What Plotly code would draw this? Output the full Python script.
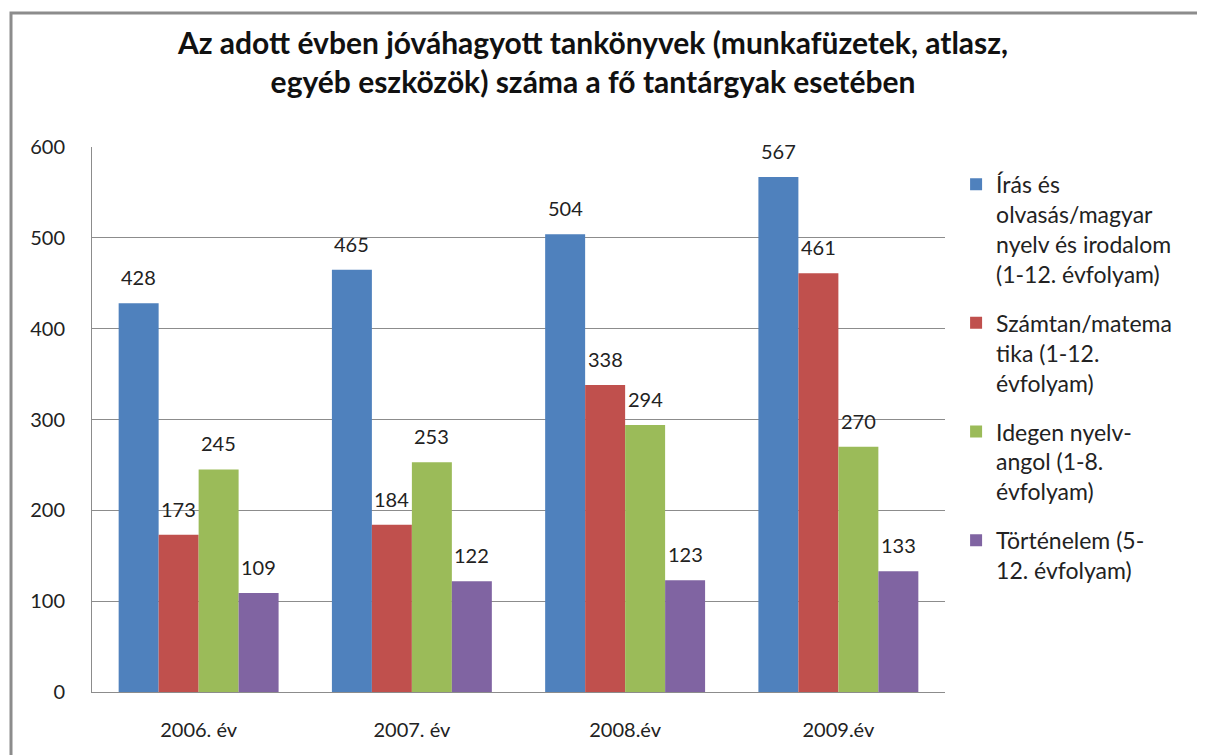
import plotly.graph_objects as go

# data
years = ["2006. év", "2007. év", "2008.év", "2009.év"]
series_names = [
    "Írás és<br>olvasás/magyar<br>nyelv és irodalom<br>(1-12. évfolyam)",
    "Számtan/matema<br>tika (1-12.<br>évfolyam)",
    "Idegen nyelv-<br>angol (1-8.<br>évfolyam)",
    "Történelem (5-<br>12. évfolyam)",
]
iras = [428, 465, 504, 567]
szamtan = [173, 184, 338, 461]
idegen = [245, 253, 294, 270]
tortenelem = [109, 122, 123, 133]

colors = ["#4F81BD", "#C0504D", "#9BBB59", "#8064A2"]
FONT = "Lato"

# page adds an 8px body margin, so the figure is drawn a bit smaller
W, H = 1197, 747
L, T, PW, PH = 84, 139, 853, 545
BARGAP = 0.25

fig = go.Figure()
all_vals = [iras, szamtan, idegen, tortenelem]
for i, (name, vals) in enumerate(zip(series_names, all_vals)):
    fig.add_trace(go.Bar(
        x=years, y=vals, name=name,
        marker=dict(color=colors[i], line=dict(width=0)),
        legendgroup=str(i),
        hoverinfo="x+y",
    ))

# value labels above bars (offset to each bar of the group)
cat_px = PW / len(years)
bar_px = cat_px * (1 - BARGAP) / len(all_vals)
for i, vals in enumerate(all_vals):
    dx = (i - (len(all_vals) - 1) / 2) * bar_px
    for yr, v in zip(years, vals):
        fig.add_annotation(
            x=yr, y=v, xref="x", yref="y", text=str(v),
            showarrow=False, xshift=dx, yshift=12, yanchor="bottom",
            font=dict(family=FONT, size=20, color="#222222"),
        )

fig.update_layout(
    width=W, height=H,
    margin=dict(l=L, r=W - L - PW, t=T, b=H - T - PH),
    paper_bgcolor="white", plot_bgcolor="white",
    barmode="group", bargap=BARGAP, bargroupgap=0,
    title=dict(
        text="<b>Az adott évben jóváhagyott tankönyvek (munkafüzetek, atlasz,<br>egyéb eszközök) száma a fő tantárgyak esetében</b>",
        x=(593 - 8) / W, xanchor="center", y=1 - 46 / H, yanchor="top",
        font=dict(family=FONT, size=30, color="#111111"),
    ),
    legend=dict(
        x=1.013, xanchor="left", y=0.971, yanchor="top",
        font=dict(family=FONT, size=23, color="#222222"),
        valign="top", tracegroupgap=16,
        itemwidth=30,
    ),
    font=dict(family=FONT),
)
fig.update_yaxes(
    range=[0, 600], dtick=100,
    showgrid=True, gridcolor="#8c8c8c", gridwidth=1,
    showline=True, linecolor="#8c8c8c", linewidth=1,
    tickfont=dict(family=FONT, size=20, color="#222222"),
    ticks="", zeroline=False, ticklabelstandoff=22,
)
fig.update_xaxes(
    showline=True, linecolor="#8c8c8c", linewidth=1,
    tickfont=dict(family=FONT, size=20, color="#222222"),
    ticks="", ticklabelstandoff=20,
)
# outer chart border
fig.add_shape(type="rect", xref="paper", yref="paper",
              x0=(3 - L) / PW, x1=(W + 30 - L) / PW,
              y0=(T + PH - H - 30) / PH, y1=(T + PH - 5) / PH,
              line=dict(color="#8c8c8c", width=3), fillcolor="rgba(0,0,0,0)")

fig.write_html("out.html")
